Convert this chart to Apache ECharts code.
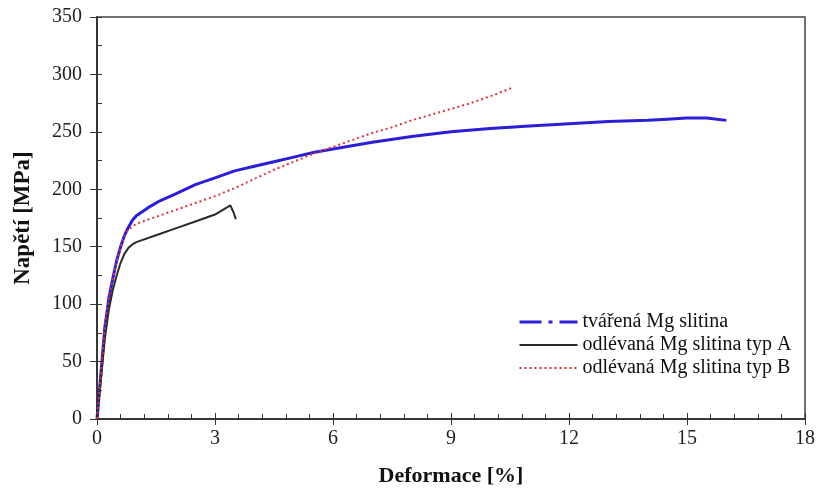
<!DOCTYPE html>
<html>
<head>
<meta charset="utf-8">
<script src="https://cdn.jsdelivr.net/npm/echarts@6/dist/echarts.min.js"></script>
<style>
html, body { margin: 0; padding: 0; background: #fff; }
#chart { width: 820px; height: 492px; }
</style>
</head>
<body>
<div id="chart"></div>
<script>
// tvářená Mg slitina
var strainWrought = [0, 0.1, 0.2, 0.3, 0.4, 0.5, 0.6, 0.7, 0.8, 0.9, 1.0, 1.3, 1.6, 2, 2.5, 3, 3.5, 4, 4.5, 5, 5.5, 6, 7, 8, 9, 10, 11, 12, 13, 14, 14.5, 15, 15.5, 16]
var stressWrought = [0, 40, 80, 105, 122, 138, 150, 160, 167, 173, 177, 184, 190, 196, 204, 210, 216, 220, 224, 228, 232, 235, 241, 246, 250, 253, 255, 257, 259, 260, 261, 262, 262, 260]
// odlévaná Mg slitina typ A
var strainCastA = [0, 0.1, 0.2, 0.3, 0.4, 0.5, 0.6, 0.7, 0.8, 0.9, 1.0, 1.5, 2, 2.5, 3, 3.39, 3.47, 3.53]
var stressCastA = [0, 35, 70, 95, 112, 125, 136, 144, 149, 152, 154, 160, 166, 172, 178, 186, 180, 174]
// odlévaná Mg slitina typ B
var strainCastB = [0, 0.1, 0.2, 0.3, 0.4, 0.5, 0.6, 0.7, 0.8, 1.0, 1.5, 2, 2.5, 3, 3.5, 4, 4.5, 5, 5.5, 6, 6.5, 7, 7.5, 8, 8.5, 9, 9.5, 10, 10.3, 10.6]
var stressCastB = [0, 40, 80, 105, 122, 137, 150, 160, 165, 170, 176, 182, 188, 194, 201, 209, 217, 224, 231, 237, 243, 249, 254, 260, 265, 270, 275, 281, 285, 289]

var seriesNames = ['tvářená Mg slitina', 'odlévaná Mg slitina typ A', 'odlévaná Mg slitina typ B']

function pairs (xs, ys) {
  return xs.map(function (x, i) { return [x, ys[i]] })
}

var font = 'Liberation Serif'
var chart = echarts.init(document.getElementById('chart'))

var axisBase = {
  type: 'value',
  axisLine: { show: true, onZero: false, lineStyle: { color: '#333', width: 1.5 } },
  splitLine: { show: false }
}

chart.setOption({
  animation: false,
  backgroundColor: '#fff',
  grid: {
    left: 97,
    right: 15,
    top: 17,
    bottom: 73,
    show: true,
    borderColor: '#444',
    borderWidth: 1.5
  },
  legend: {
    orient: 'vertical',
    left: 513,
    top: 307,
    itemWidth: 58,
    itemHeight: 14,
    itemGap: 3,
    itemStyle: { opacity: 0 },
    textStyle: { fontFamily: font, fontSize: 20, lineHeight: 20, color: '#111' },
    data: [
      { name: seriesNames[0], lineStyle: { type: [22, 7, 4, 7], width: 3 } },
      { name: seriesNames[1] },
      { name: seriesNames[2] }
    ]
  },
  xAxis: [
    Object.assign({}, axisBase, {
      min: 0,
      max: 18,
      interval: 3,
      name: 'Deformace [%]',
      nameLocation: 'middle',
      nameGap: 46,
      nameTextStyle: { fontFamily: font, fontSize: 22, fontWeight: 'bold', color: '#111' },
      axisTick: { show: true, length: 6, lineStyle: { color: '#333' } },
      axisLabel: { margin: 10, fontFamily: font, fontSize: 20, color: '#222' }
    }),
    Object.assign({}, axisBase, {
      min: 0,
      max: 18,
      interval: 3,
      position: 'bottom',
      axisTick: { show: true, inside: true, length: 6, lineStyle: { color: '#333' } },
      minorTick: { show: true, splitNumber: 5, length: 5, lineStyle: { color: '#333' } },
      axisLabel: { show: false }
    })
  ],
  yAxis: [
    Object.assign({}, axisBase, {
      min: 0,
      max: 350,
      interval: 50,
      name: 'Napětí [MPa]',
      nameLocation: 'middle',
      nameGap: 62,
      nameTextStyle: { fontFamily: font, fontSize: 23, fontWeight: 'bold', color: '#111' },
      axisTick: { show: true, length: 7, lineStyle: { color: '#333' } },
      axisLabel: { margin: 15, fontFamily: font, fontSize: 20, color: '#222' }
    }),
    Object.assign({}, axisBase, {
      min: 0,
      max: 350,
      interval: 50,
      position: 'left',
      axisTick: { show: true, inside: true, length: 5, lineStyle: { color: '#333' } },
      minorTick: { show: true, splitNumber: 2, length: 5, lineStyle: { color: '#333' } },
      axisLabel: { show: false }
    })
  ],
  series: [
    {
      name: seriesNames[0],
      type: 'line',
      symbol: 'none',
      color: '#2b1fd6',
      lineStyle: { width: 3, color: '#2b1fd6' },
      data: pairs(strainWrought, stressWrought)
    },
    {
      name: seriesNames[1],
      type: 'line',
      symbol: 'none',
      color: '#2a2a2a',
      lineStyle: { width: 2, color: '#2a2a2a' },
      data: pairs(strainCastA, stressCastA)
    },
    {
      name: seriesNames[2],
      type: 'line',
      symbol: 'none',
      color: '#e0303a',
      lineStyle: { width: 2, type: [2, 3], color: '#e0303a' },
      data: pairs(strainCastB, stressCastB)
    }
  ]
})
</script>
</body>
</html>
